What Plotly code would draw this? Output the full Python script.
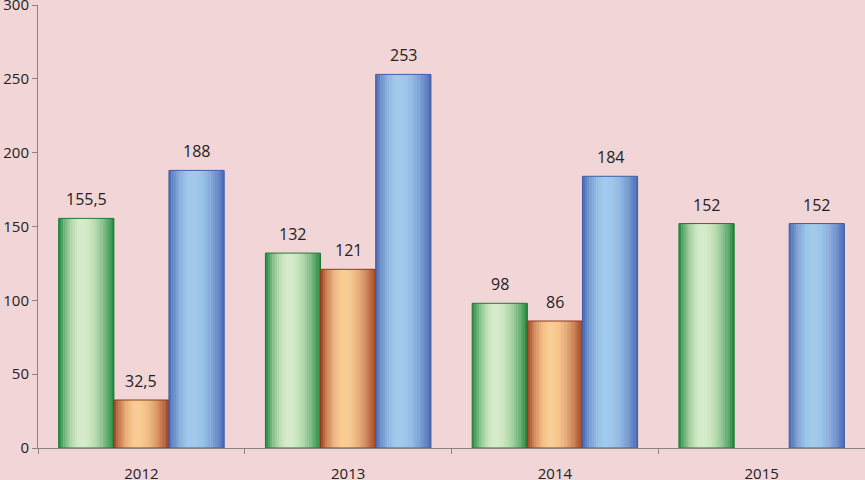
import plotly.graph_objects as go

years = ["2012", "2013", "2014", "2015"]
green_vals = [155.5, 132, 98, 152]
orange_vals = [32.5, 121, 86, None]
blue_vals = [188, 253, 184, 152]

# (values, dark edge colour, light centre colour, outline colour)
SERIES = [
    (green_vals, (30, 135, 60), (214, 236, 200), "#1f7a36"),
    (orange_vals, (160, 64, 30), (250, 204, 146), "#8e3a1c"),
    (blue_vals, (72, 104, 180), (160, 202, 236), "#3f5ea8"),
]

BG = "#f2d5d6"
GROUP_W = 0.8
BAR_W = GROUP_W / 3
N_STRIPS = 24


def mix(c1, c2, f):
    return "rgb(%d,%d,%d)" % tuple(round(a + (b - a) * f) for a, b in zip(c1, c2))


def shade(t):
    # lightness across the bar: dark edges, light centre slightly left of middle
    peak = 0.42
    d = abs(t - peak) / (peak if t < peak else 1 - peak)
    return max(0.0, 1 - d ** 2)


def fmt(v):
    return ("%g" % v).replace(".", ",")


fig = go.Figure()

for s, (vals, dark, light, edge) in enumerate(SERIES):
    center = (s - 1) * BAR_W
    left = center - BAR_W / 2
    for k in range(N_STRIPS):
        t = (k + 0.5) / N_STRIPS
        fig.add_trace(go.Bar(
            x=years, y=vals,
            offset=left + k * BAR_W / N_STRIPS,
            width=BAR_W / N_STRIPS * 1.15,
            marker=dict(color=mix(dark, light, shade(t)), line=dict(width=0)),
            hoverinfo="skip", showlegend=False,
        ))
    # outline on top
    fig.add_trace(go.Bar(
        x=years, y=vals, offset=left, width=BAR_W,
        marker=dict(color="rgba(0,0,0,0)", line=dict(color=edge, width=1)),
        showlegend=False,
    ))
    for i, v in enumerate(vals):
        if v is None:
            continue
        fig.add_annotation(
            x=i + center, y=v, text=fmt(v), showarrow=False,
            yanchor="bottom", yshift=6,
            font=dict(family="Open Sans", size=16, color="#222222"),
        )

fig.update_layout(
    width=865, height=480,
    barmode="overlay",
    paper_bgcolor=BG, plot_bgcolor=BG,
    margin=dict(l=38, r=0, t=5, b=32, autoexpand=False),
    font=dict(family="Open Sans", size=15, color="#222222"),
    showlegend=False,
)
fig.update_xaxes(
    type="category", categoryarray=years, range=[-0.5, 3.5],
    tickson="boundaries", ticks="outside", ticklen=5, tickcolor="#868686",
    ticklabelstandoff=12, ticklabeloverflow="allow",
    showline=True, linecolor="#868686", linewidth=1,
    showgrid=False, zeroline=False, automargin=False,
)
fig.update_yaxes(
    range=[0, 300], dtick=50, ticks="outside", ticklen=5, tickcolor="#868686",
    ticklabeloverflow="allow",
    showline=True, linecolor="#868686", linewidth=1,
    showgrid=False, zeroline=False, automargin=False,
)

# drop the default page margin so the figure fills the window
fig.write_html(
    "out.html",
    config={"displayModeBar": False},
    post_script="document.body.style.margin='0';document.body.style.background='%s';" % BG,
)
